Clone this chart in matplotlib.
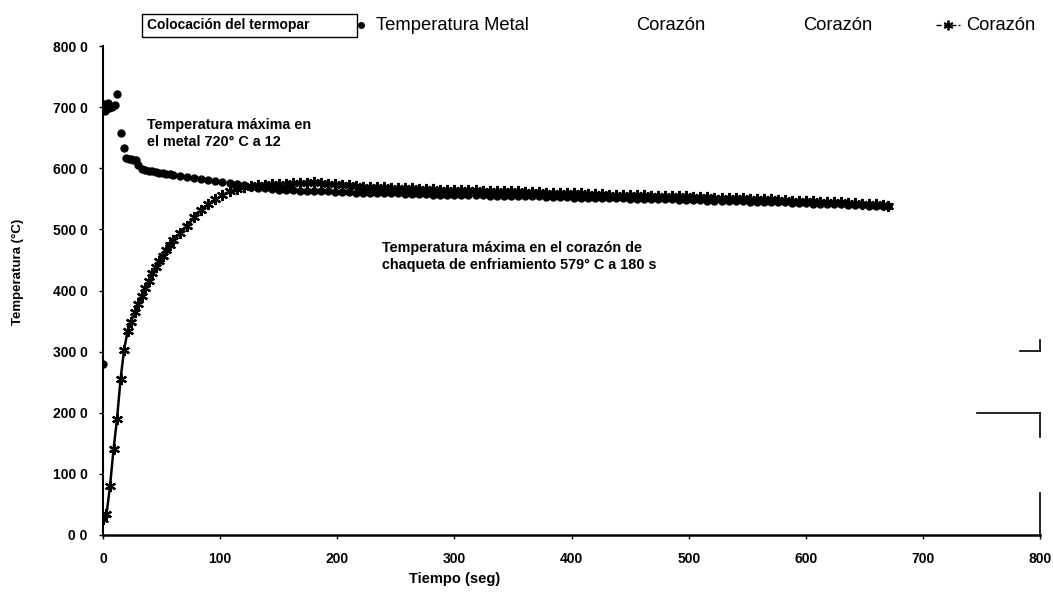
import matplotlib
matplotlib.use("Agg")
import matplotlib.pyplot as plt
from matplotlib.lines import Line2D
from matplotlib.patches import Rectangle

plt.rcParams['font.family'] = ['Liberation Sans', 'DejaVu Sans']

# temperatura en el corazon (marcador estrella)
core_time = list(range(0, 61, 3)) + list(range(66, 667, 6)) + [670]
core_temp = [26, 34, 80, 140, 190, 255, 303, 333, 348, 365,
             378, 391, 404, 416, 428, 438, 448, 457, 466, 474, 482,
             494, 506, 520, 532, 541, 549, 556, 562, 566, 569,
             571, 572, 573, 574, 575, 575, 576, 576, 576, 577,
             576, 575, 574, 573, 572, 571, 570, 570, 569, 569,
             568, 568, 567, 567, 566, 566, 566, 565, 565, 565,
             564, 564, 564, 563, 563, 563, 562, 562, 562, 561,
             561, 561, 560, 560, 560, 559, 559, 559, 558, 558,
             558, 557, 557, 557, 556, 556, 556, 555, 555, 555,
             554, 554, 554, 553, 553, 553, 552, 552, 551, 551,
             551, 550, 550, 549, 549, 548, 548, 547, 547, 546,
             546, 545, 545, 544, 544, 543, 543, 542, 542, 541,
             540, 539]

# temperatura del metal (puntos)
metal_time = [0, 1, 2, 3, 4, 5, 6, 8, 10, 12,
              15, 18, 20, 22, 24, 26, 28, 30, 33, 36,
              39, 42, 45, 48, 51, 54, 57, 60] + list(range(66, 667, 6)) + [670]
metal_temp = [280, 705, 693, 700, 706, 698, 702, 700, 704, 722,
              657, 633, 616, 615, 615, 614, 613, 606, 599, 597,
              596, 595, 594, 593, 592, 591, 590, 589,
              588, 586, 584, 582, 580, 579, 577, 576, 574, 572,
              570, 568, 567, 566, 565, 564, 564, 563, 563, 562,
              562, 562, 561, 561, 561, 560, 560, 560, 559, 559,
              559, 559, 558, 558, 558, 558, 557, 557, 557, 557,
              556, 556, 556, 556, 555, 555, 555, 555, 554, 554,
              554, 554, 553, 553, 553, 553, 552, 552, 552, 552,
              551, 551, 551, 551, 550, 550, 550, 550, 549, 549,
              549, 548, 548, 548, 548, 547, 547, 547, 546, 546,
              546, 545, 545, 545, 544, 544, 544, 543, 543, 543,
              542, 542, 542, 541, 541, 540, 540, 540, 539, 539,
              538, 538]

x_ticks = [0, 100, 200, 300, 400, 500, 600, 700, 800]
y_ticks = [0, 100, 200, 300, 400, 500, 600, 700, 800]
y_tick_labels = ["0 0", "100 0", "200 0", "300 0", "400 0", "500 0", "600 0", "700 0", "800 0"]

fig = plt.figure(figsize=(10.53, 5.97), dpi=100)
ax = fig.add_axes([0.0978, 0.1039, 0.890, 0.819])

star = (6, 2, 0)
ax.plot(core_time, core_temp, color="black", linewidth=1.8,
        marker=star, markersize=8, markeredgewidth=1.6, zorder=3)
ax.plot(metal_time, metal_temp, color="black", linestyle="none",
        marker="o", markersize=5, zorder=4)

ax.set_xlim(0, 800)
ax.set_ylim(0, 800)
ax.set_xticks(x_ticks)
ax.set_yticks(y_ticks)
ax.set_yticklabels(y_tick_labels)
for lab in ax.get_xticklabels() + ax.get_yticklabels():
    lab.set_fontweight("bold")
    lab.set_fontsize(10)
ax.tick_params(axis="both", direction="out", length=3, width=1)
ax.tick_params(axis="y", pad=8)
ax.tick_params(axis="x", pad=9)
ax.spines["top"].set_visible(False)
ax.spines["right"].set_visible(False)
ax.spines["left"].set_linewidth(1.5)
ax.spines["bottom"].set_linewidth(1.8)

# restos del marco derecho (escaneo)
for xs, ys in [([0.979, 1.0], [0.376, 0.376]), ([1.0, 1.0], [0.376, 0.398]),
               ([0.933, 1.0], [0.249, 0.249]), ([1.0, 1.0], [0.249, 0.200]),
               ([1.0, 1.0], [0.0, 0.086])]:
    ax.plot(xs, ys, color="black", linewidth=1.2, transform=ax.transAxes, clip_on=False)

ax.text(38, 683, "Temperatura máxima en\nel metal 720° C a 12",
        fontsize=10.4, fontweight="bold", va="top", ha="left", linespacing=1.3)
ax.text(238, 481, "Temperatura máxima en el corazón de\nchaqueta de enfriamiento 579° C a 180 s",
        fontsize=10.4, fontweight="bold", va="top", ha="left", linespacing=1.3)

fig.text(0.017, 0.544, "Temperatura (°C)", rotation=90, fontsize=9.5,
         fontweight="bold", ha="center", va="center")
fig.text(455 / 1053, 0.03, "Tiempo (seg)", fontsize=10.5,
         fontweight="bold", ha="center", va="center")

# leyenda superior
ly = 1 - 25 / 597
fig.add_artist(Rectangle((142 / 1053, 1 - 37 / 597), 215 / 1053, 23 / 597,
                         transform=fig.transFigure, fill=False, edgecolor="black", linewidth=1.0))
fig.text(147 / 1053, ly, "Colocación del termopar", fontsize=10, fontweight="bold",
         ha="left", va="center")
fig.add_artist(Line2D([361 / 1053], [ly], marker="o", markersize=4, color="black",
                      transform=fig.transFigure))
fig.text(376 / 1053, ly, "Temperatura Metal", fontsize=13.2, ha="left", va="center")
fig.text(636 / 1053, ly, "Corazón", fontsize=13.2, ha="left", va="center")
fig.text(803 / 1053, ly, "Corazón", fontsize=13.2, ha="left", va="center")
fig.add_artist(Line2D([936 / 1053, 948 / 1053, 960 / 1053], [ly, ly, ly], marker=star,
                      markevery=[1], markersize=7, markeredgewidth=1.3, linewidth=1.0,
                      linestyle="--", color="black", transform=fig.transFigure))
fig.text(966 / 1053, ly, "Corazón", fontsize=13.2, ha="left", va="center")

fig.savefig("out.png", dpi=100)
